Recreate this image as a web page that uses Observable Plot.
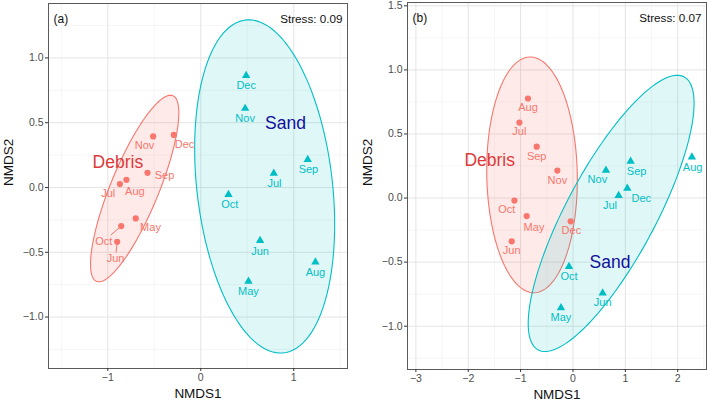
<!DOCTYPE html>
<html><head><meta charset="utf-8">
<script src="https://cdn.jsdelivr.net/npm/d3@7"></script>
<script src="https://cdn.jsdelivr.net/npm/@observablehq/plot@0.6"></script>
<style>
body{margin:0;background:#fff;}
#wrap{display:flex;width:708px;height:402px;overflow:hidden;}
#wrap svg{font-family:"Liberation Sans",Arial,sans-serif;background:#fff;}
</style></head><body><div id="wrap"></div>
<script>
// ---------- data ----------
const months = ["May","Jun","Jul","Aug","Sep","Oct","Nov","Dec"];

// Panel (a)
const aDebrisX = [-0.70,-0.899,-0.87,-0.80,-0.573,-0.856,-0.512,-0.29];
const aDebrisY = [-0.239,-0.419,0.026,0.059,0.113,-0.298,0.394,0.406];
const aDebrisLabelX = [-0.541,-0.917,-0.996,-0.709,-0.39,-1.043,-0.605,-0.175];
const aDebrisLabelY = [-0.311,-0.55,-0.044,-0.029,0.093,-0.414,0.324,0.332];
const aSandX = [0.513,0.638,0.785,1.233,1.15,0.298,0.477,0.488];
const aSandY = [-0.725,-0.409,0.11,-0.576,0.216,-0.054,0.61,0.864];
const aSandLabelX = [0.513,0.638,0.792,1.233,1.158,0.312,0.477,0.488];
const aSandLabelY = [-0.805,-0.491,0.033,-0.656,0.139,-0.131,0.532,0.787];
const aSegments = ["Oct","Jun"];
// ellipse: [cx, cy, rx, ry, rho]
const aDebrisEllipse = [-0.711,-0.008,0.475,0.72,0.81];
const aSandEllipse = [0.687,0.008,0.753,1.286,-0.227];
const aStress = "Stress: 0.09";
const aGroupLabelX = [-0.892,0.911];
const aGroupLabelY = [0.195,0.496];

// Panel (b)
const bDebrisX = [-0.884,-1.17,-1.023,-0.859,-0.693,-1.118,-0.298,-0.044];
const bDebrisY = [-0.141,-0.338,0.589,0.777,0.401,-0.02,0.214,-0.182];
const bDebrisLabelX = [-0.744,-1.17,-1.023,-0.859,-0.693,-1.265,-0.298,-0.031];
const bDebrisLabelY = [-0.231,-0.411,0.516,0.703,0.328,-0.091,0.141,-0.255];
const bSandX = [-0.229,0.567,0.872,2.271,1.101,-0.076,0.63,1.038];
const bSandY = [-0.856,-0.742,0.019,0.32,0.287,-0.534,0.216,0.076];
const bSandLabelX = [-0.229,0.567,0.706,2.284,1.216,-0.076,0.466,1.305];
const bSandLabelY = [-0.934,-0.817,-0.057,0.242,0.209,-0.609,0.144,0.0];
const bSegments = [];
const bDebrisEllipse = [-0.782,0.181,0.865,0.92,-0.04];
const bSandEllipse = [0.729,-0.12,1.584,1.078,0.797];
const bStress = "Stress: 0.07";
const bGroupLabelX = [-1.59,0.706];
const bGroupLabelY = [0.295,-0.5];

const groups = ["Debris","Sand"];

// ---------- styling ----------
const colDebris = "#F8766D", colSand = "#00BFC4";
const groupTextColors = ["#dc3a3a","#10109a"];
const font = "Liberation Sans, Arial, sans-serif";

function ellipseRows(p, group) {
  const [cx, cy, rx, ry, rho] = p;
  const s = Math.sqrt(1 - rho * rho);
  const rows = [];
  for (let i = 0; i <= 120; i++) {
    const t = (i / 120) * 2 * Math.PI;
    rows.push({x: cx + rx * Math.cos(t), y: cy + ry * (rho * Math.cos(t) + s * Math.sin(t)), group});
  }
  return rows;
}

function rowsOf(xs, ys, lxs, lys, group) {
  return months.map((m, i) => ({month: m, x: xs[i], y: ys[i], lx: lxs[i], ly: lys[i], group}));
}

function panel(cfg) {
  const W = 354, H = 402;
  const {ml, mr, mt, mb, xd, yd} = cfg;
  const kx = (W - ml - mr) / (xd[1] - xd[0]);
  const ky = (H - mt - mb) / (yd[1] - yd[0]);
  const debris = rowsOf(cfg.dX, cfg.dY, cfg.dLX, cfg.dLY, "Debris");
  const sand = rowsOf(cfg.sX, cfg.sY, cfg.sLX, cfg.sLY, "Sand");
  // ggrepel-like connector segments from point to label box edge
  const segs = debris.filter(d => cfg.segs.includes(d.month)).map(d => {
    const dxp = (d.x - d.lx) * kx, dyp = (d.y - d.ly) * ky;
    const hw = d.month.length * 3.3 + 1, hh = 6;
    const s = Math.min(hw / Math.max(Math.abs(dxp), 1e-6), hh / Math.max(Math.abs(dyp), 1e-6));
    return {x1: d.x, y1: d.y, x2: d.lx + s * (d.x - d.lx), y2: d.ly + s * (d.y - d.ly)};
  });
  const groupLabels = groups.map((g, i) => ({g, x: cfg.gX[i], y: cfg.gY[i], c: groupTextColors[i]}));
  return Plot.plot({
    width: W, height: H,
    marginLeft: ml, marginRight: mr, marginTop: mt, marginBottom: mb,
    style: {fontFamily: font, background: "#fff"},
    x: {domain: xd},
    y: {domain: yd},
    marks: [
      Plot.gridX(cfg.xMinor, {stroke: "#f2f2f2", strokeOpacity: 1, strokeWidth: 0.7}),
      Plot.gridY(cfg.yMinor, {stroke: "#f2f2f2", strokeOpacity: 1, strokeWidth: 0.7}),
      Plot.gridX(cfg.xMajor, {stroke: "#e4e4e4", strokeOpacity: 1, strokeWidth: 1}),
      Plot.gridY(cfg.yMajor, {stroke: "#e4e4e4", strokeOpacity: 1, strokeWidth: 1}),
      Plot.line(ellipseRows(cfg.dE, "Debris"), {x: "x", y: "y", fill: colDebris, fillOpacity: 0.15, stroke: colDebris, strokeWidth: 1.1, curve: "linear"}),
      Plot.line(ellipseRows(cfg.sE, "Sand"), {x: "x", y: "y", fill: colSand, fillOpacity: 0.12, stroke: colSand, strokeWidth: 1.1, curve: "linear"}),
      Plot.link(segs, {x1: "x1", y1: "y1", x2: "x2", y2: "y2", stroke: colDebris, strokeWidth: 1}),
      Plot.dot(debris, {x: "x", y: "y", symbol: "circle", r: 3.1, fill: colDebris, stroke: "none"}),
      Plot.dot(sand, {x: "x", y: "y", symbol: "triangle", r: 3.1, fill: colSand, stroke: "none"}),
      Plot.text(debris, {x: "lx", y: "ly", text: "month", fill: colDebris, fontSize: 11}),
      Plot.text(sand, {x: "lx", y: "ly", text: "month", fill: colSand, fontSize: 11}),
      Plot.text(groupLabels, {x: "x", y: "y", text: "g", fill: "c", fontSize: 17.5}),
      Plot.frame({stroke: "#5a5a5a", strokeWidth: 1}),
      Plot.axisX({ticks: cfg.xMajor, tickFormat: d3.format("d"), tickSize: 3, tickPadding: 2, fontSize: 10.5, fill: "#4d4d4d", stroke: "#333", label: null}),
      Plot.axisY({ticks: cfg.yMajor, tickFormat: d3.format(".1f"), tickSize: 3, tickPadding: 2, fontSize: 10.5, fill: "#4d4d4d", stroke: "#333", label: null}),
      Plot.text([cfg.tag], {frameAnchor: "top-left", textAnchor: "start", lineAnchor: "middle", dx: 5, dy: 16, fontSize: 12, fill: "#111"}),
      Plot.text([cfg.stress], {frameAnchor: "top-right", textAnchor: "end", lineAnchor: "middle", dx: -5, dy: 16, fontSize: 11.7, fill: "#111"}),
      Plot.text(["NMDS1"], {frameAnchor: "bottom", lineAnchor: "middle", dy: 25, fontSize: 13.5, fill: "#111"}),
      Plot.text(["NMDS2"], {frameAnchor: "left", dx: cfg.ytDx, rotate: -90, fontSize: 13.5, fill: "#111"})
    ]
  });
}

const pa = panel({
  ml: 48, mr: 7, mt: 3, mb: 34,
  xd: [-1.638, 1.578], yd: [-1.397, 1.42],
  xMajor: [-1, 0, 1], xMinor: [-1.5, -0.5, 0.5, 1.5],
  yMajor: [-1, -0.5, 0, 0.5, 1], yMinor: [-1.25, -0.75, -0.25, 0.25, 0.75, 1.25],
  dX: aDebrisX, dY: aDebrisY, dLX: aDebrisLabelX, dLY: aDebrisLabelY,
  sX: aSandX, sY: aSandY, sLX: aSandLabelX, sLY: aSandLabelY,
  segs: aSegments, dE: aDebrisEllipse, sE: aSandEllipse,
  gX: aGroupLabelX, gY: aGroupLabelY, tag: "(a)", stress: aStress, ytDx: -40
});
const pb = panel({
  ml: 53, mr: 2, mt: 2, mb: 33,
  xd: [-3.16, 2.55], yd: [-1.338, 1.526],
  xMajor: [-3, -2, -1, 0, 1, 2], xMinor: [-2.5, -1.5, -0.5, 0.5, 1.5, 2.5],
  yMajor: [-1, -0.5, 0, 0.5, 1, 1.5], yMinor: [-1.25, -0.75, -0.25, 0.25, 0.75, 1.25],
  dX: bDebrisX, dY: bDebrisY, dLX: bDebrisLabelX, dLY: bDebrisLabelY,
  sX: bSandX, sY: bSandY, sLX: bSandLabelX, sLY: bSandLabelY,
  segs: bSegments, dE: bDebrisEllipse, sE: bSandEllipse,
  gX: bGroupLabelX, gY: bGroupLabelY, tag: "(b)", stress: bStress, ytDx: -40
});
document.getElementById("wrap").append(pa, pb);
</script></body></html>
